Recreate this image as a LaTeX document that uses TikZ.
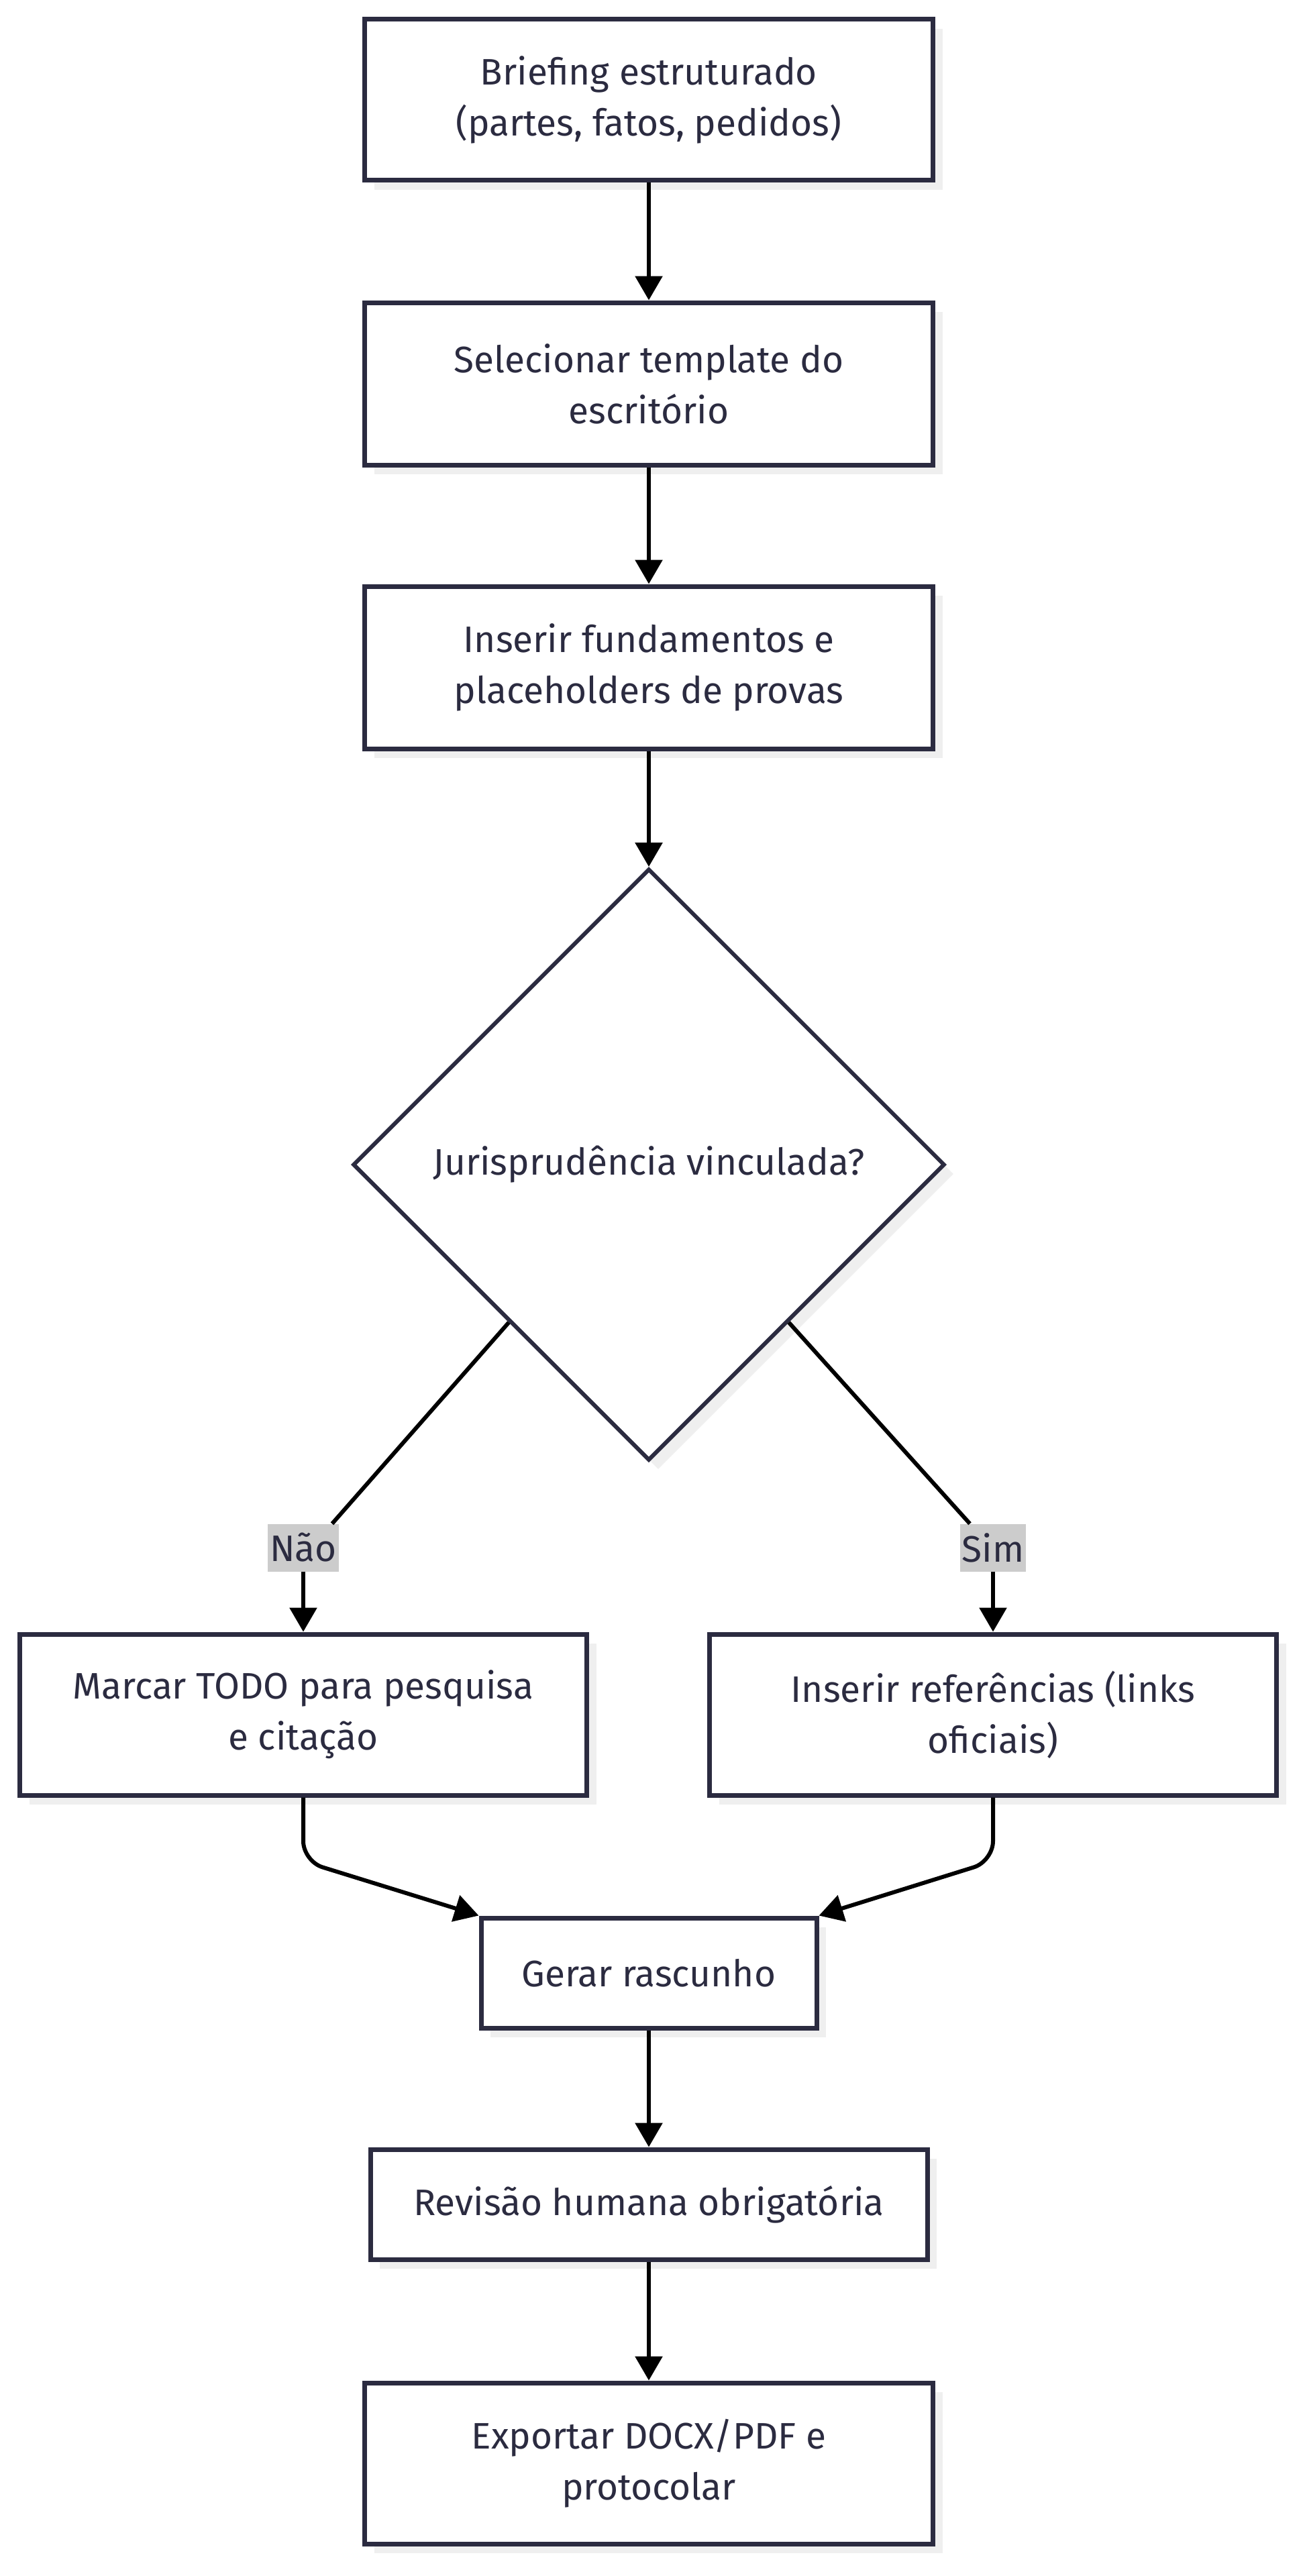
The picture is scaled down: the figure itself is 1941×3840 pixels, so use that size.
\documentclass[tikz,border=0pt]{standalone}
\usepackage{fontspec}
\setmainfont{Fira Sans}
\usetikzlibrary{shapes.geometric,arrows.meta,shadows,calc}
\definecolor{ink}{HTML}{2B2B40}
\definecolor{shade}{HTML}{EFEFEF}
\definecolor{tag}{HTML}{CCCCCC}
\tikzset{
  every node/.style={font=\fontsize{55}{76}\selectfont, text=ink},
  stepbox/.style={draw=ink, line width=7pt, fill=white, align=center, inner sep=0pt,
    drop shadow={shadow xshift=14pt, shadow yshift=-14pt, fill=shade, opacity=1}},
  choice/.style={diamond, draw=ink, line width=6pt, fill=white, inner sep=0pt,
    minimum width=882pt, minimum height=882pt,
    drop shadow={shadow xshift=14pt, shadow yshift=-14pt, fill=shade, opacity=1}},
  tagbox/.style={fill=tag, inner xsep=3pt, minimum height=71pt},
  conn/.style={line width=6pt, black},
  arrow/.style={conn, -{Triangle[length=36pt,width=40pt]}}
}
\begin{document}
\begin{tikzpicture}[x=1pt,y=-1pt]
\useasboundingbox[fill=white] (0,0) rectangle (1941,3840);
\node[stepbox, minimum width=847pt, minimum height=240pt] (brief) at (967,149) {Briefing estruturado\\(partes, fatos, pedidos)};
\node[stepbox, minimum width=847pt, minimum height=242pt] (tmpl) at (967,572) {Selecionar template do\\escritório};
\node[stepbox, minimum width=847pt, minimum height=242pt] (fund) at (967,995) {Inserir fundamentos e\\placeholders de provas};
\node[choice] (juris) at (967,1736) {Jurisprudência vinculada?};
\node[tagbox] (nao) at (452,2307) {Não};
\node[tagbox] (sim) at (1480,2307) {Sim};
\node[stepbox, minimum width=845pt, minimum height=240pt] (todo) at (452,2556) {Marcar TODO para pesquisa\\e citação};
\node[stepbox, minimum width=845pt, minimum height=240pt] (refs) at (1480,2556) {Inserir referências (links\\oficiais)};
\node[stepbox, minimum width=500pt, minimum height=164pt] (draft) at (967,2941) {Gerar rascunho};
\node[stepbox, minimum width=830pt, minimum height=164pt] (review) at (967,3286) {Revisão humana obrigatória};
\node[stepbox, minimum width=847pt, minimum height=240pt] (export) at (967,3672) {Exportar DOCX/PDF e\\protocolar};
\draw[arrow] (brief) -- (tmpl);
\draw[arrow] (tmpl) -- (fund);
\draw[arrow] (fund) -- (juris);
\draw[conn] ($(juris.west)!0.53!(juris.south)$) -- ([xshift=-10pt]nao.north east);
\draw[conn] ($(juris.east)!0.53!(juris.south)$) -- ([xshift=15pt]sim.north west);
\draw[arrow] (nao) -- (todo);
\draw[arrow] (sim) -- (refs);
\draw[arrow, rounded corners=30pt] (todo.south) -- ([yshift=-95pt]todo.south) -- (draft.north west);
\draw[arrow, rounded corners=30pt] (refs.south) -- ([yshift=-95pt]refs.south) -- (draft.north east);
\draw[arrow] (draft) -- (review);
\draw[arrow] (review) -- (export);
\end{tikzpicture}
\end{document}
